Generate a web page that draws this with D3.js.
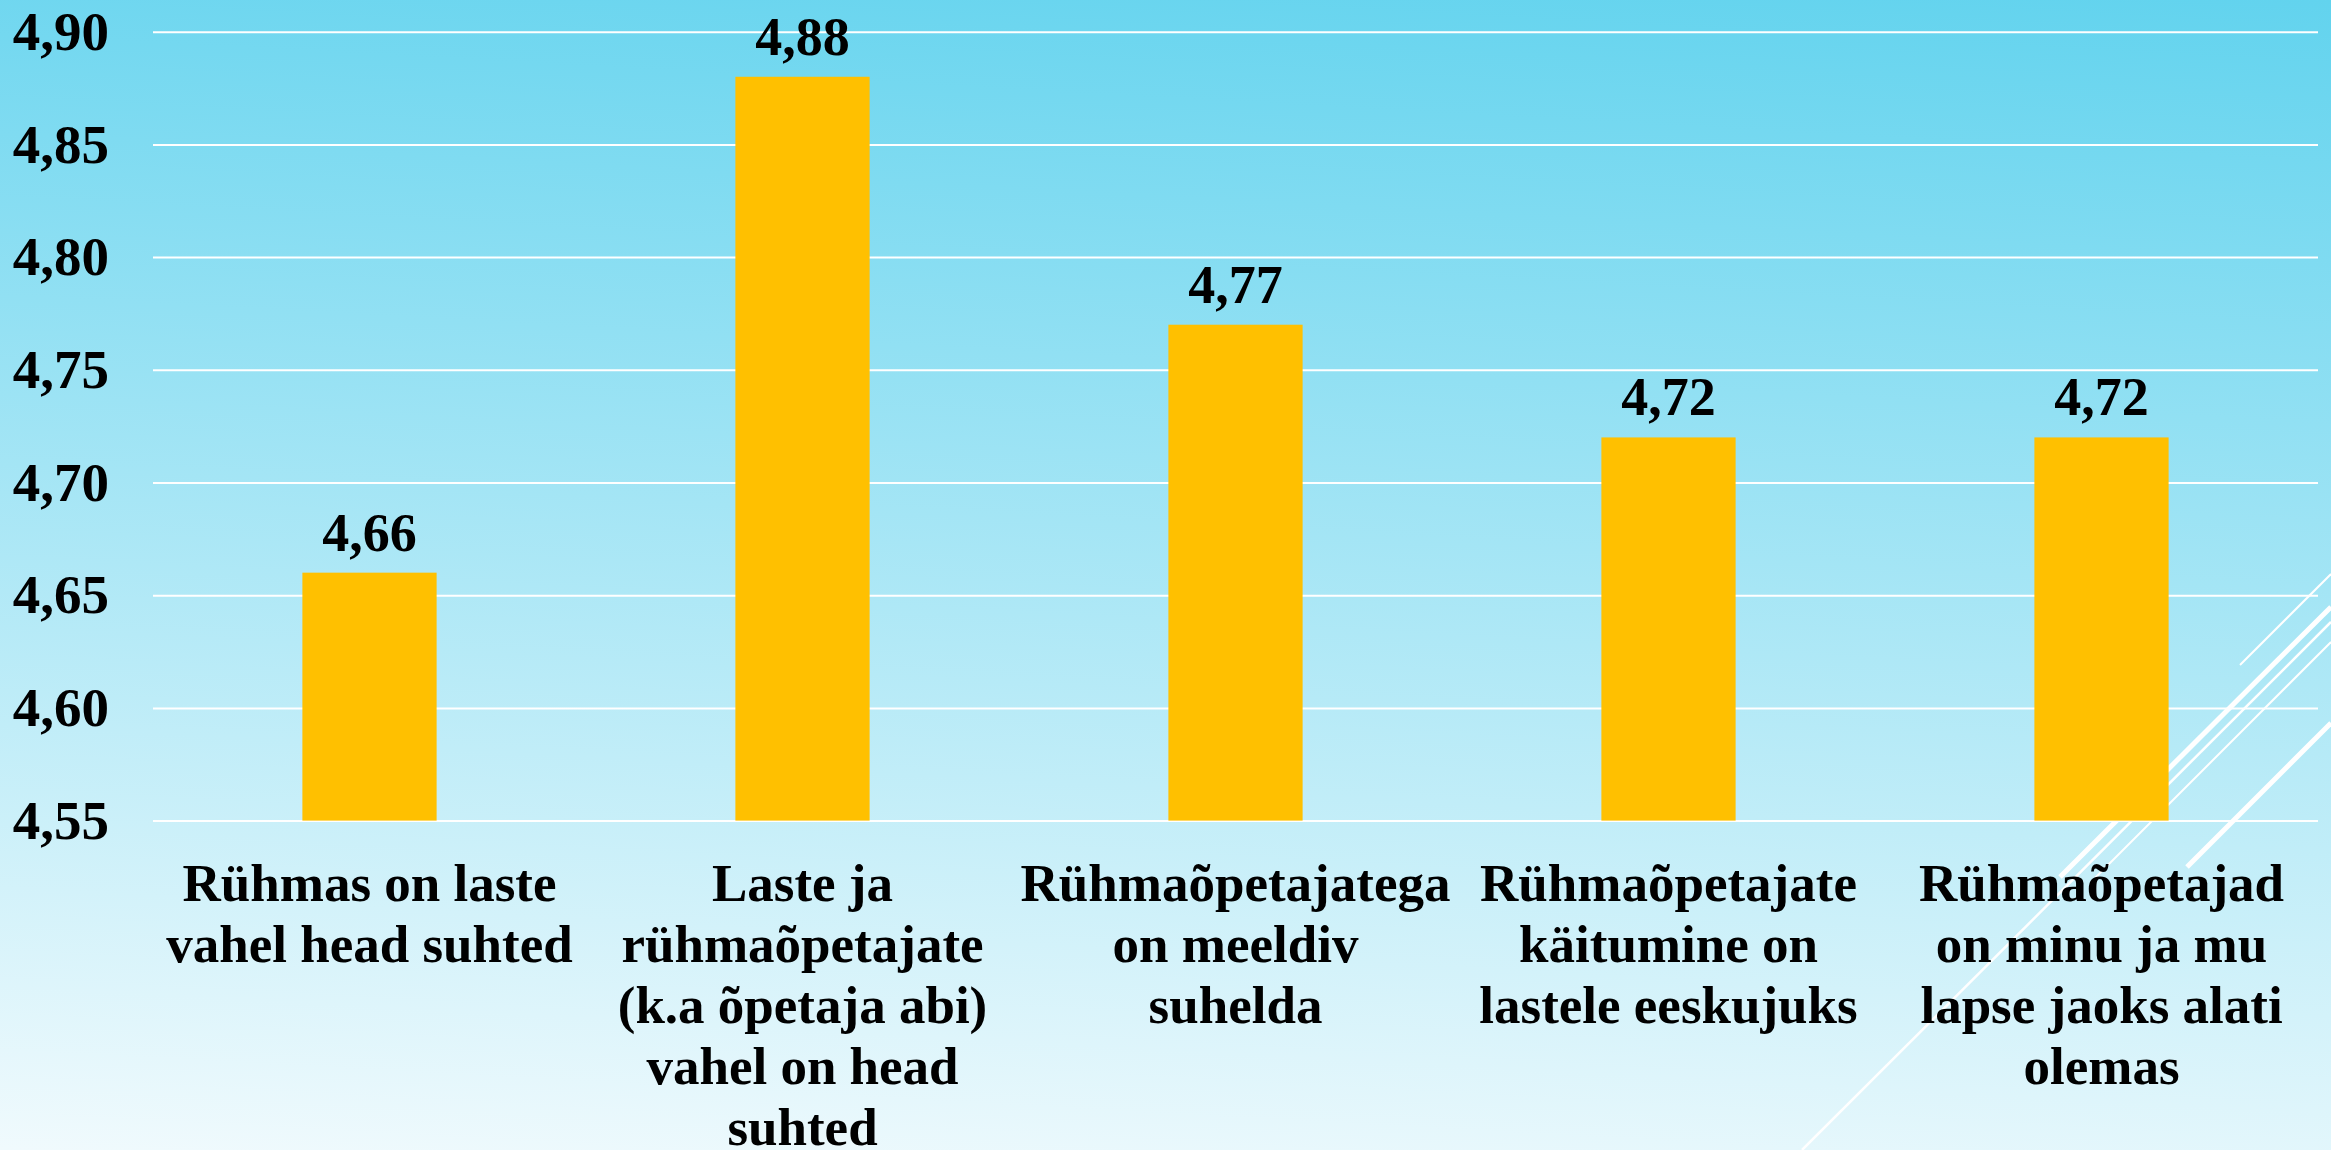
<!DOCTYPE html>
<html>
<head>
<meta charset="utf-8">
<script src="https://cdn.jsdelivr.net/npm/d3@7"></script>
<style>
  html, body { margin: 0; padding: 0; overflow: hidden; }
  #my_dataviz text { font-family: "Liberation Serif", "Times New Roman", serif; font-weight: bold; fill: #000; }
</style>
</head>
<body>
<div id="my_dataviz"></div>
<script>
// chart values
const categories = ["cat1", "cat2", "cat3", "cat4", "cat5"];
const categoryLabels = [
  ["Rühmas on laste", "vahel head suhted"],
  ["Laste ja", "rühmaõpetajate", "(k.a õpetaja abi)", "vahel on head", "suhted"],
  ["Rühmaõpetajatega", "on meeldiv", "suhelda"],
  ["Rühmaõpetajate", "käitumine on", "lastele eeskujuks"],
  ["Rühmaõpetajad", "on minu ja mu", "lapse jaoks alati", "olemas"]
];
const values = [4.66, 4.88, 4.77, 4.72, 4.72];
const yTicks = [4.55, 4.60, 4.65, 4.70, 4.75, 4.80, 4.85, 4.90];

// set the dimensions and margins of the graph
const W = 2331, H = 1150;
const margin = {top: 31.7, right: 13, bottom: 329.4, left: 153},
  width = W - margin.left - margin.right,
  height = H - margin.top - margin.bottom;

const fmt = v => v.toFixed(2).replace(".", ",");

const root = d3.select("#my_dataviz")
  .append("svg")
  .attr("width", W)
  .attr("height", H);

// background gradient (slide theme)
const defs = root.append("defs");
const grad = defs.append("linearGradient")
  .attr("id", "bg")
  .attr("gradientUnits", "userSpaceOnUse")
  .attr("x1", 2331).attr("y1", 0)
  .attr("x2", 2261).attr("y2", 1273);
grad.append("stop").attr("offset", 0).attr("stop-color", "#62d3ee");
grad.append("stop").attr("offset", 1).attr("stop-color", "#f0fafd");

root.append("rect")
  .attr("width", W)
  .attr("height", H)
  .attr("fill", "url(#bg)");

// decorative diagonal lines bottom right
const deco = [
  {x1: 2240, y1: 665, x2: 2331, y2: 574, w: 2},
  {x1: 2060, y1: 877, x2: 2331, y2: 607, w: 5},
  {x1: 1802, y1: 1150, x2: 2331, y2: 622, w: 2.5},
  {x1: 2095, y1: 878, x2: 2331, y2: 642, w: 2},
  {x1: 2187, y1: 867, x2: 2331, y2: 723, w: 5}
];
root.append("g")
  .selectAll("line")
  .data(deco)
  .join("line")
  .attr("x1", d => d.x1).attr("y1", d => d.y1)
  .attr("x2", d => d.x2).attr("y2", d => d.y2)
  .attr("stroke", "#fff")
  .attr("stroke-width", d => d.w);

const svg = root.append("g")
  .attr("transform", `translate(${margin.left},${margin.top})`);

// X axis
const x = d3.scaleBand()
  .range([0, width])
  .domain(categories)
  .paddingInner(0.69)
  .paddingOuter(0.345);

// Y axis + gridlines
const y = d3.scaleLinear()
  .domain([4.55, 4.90])
  .range([height, 0]);

const yAxis = svg.append("g")
  .call(d3.axisLeft(y)
    .tickValues(yTicks)
    .tickFormat(fmt)
    .tickSize(-width)
    .tickPadding(44));
yAxis.select(".domain").remove();
yAxis.selectAll(".tick line")
  .attr("stroke", "#fff")
  .attr("stroke-width", 2);
yAxis.selectAll(".tick text")
  .attr("font-size", 55)
  .attr("font-family", null);

const xAxis = svg.append("g")
  .attr("transform", `translate(0, ${height})`)
  .call(d3.axisBottom(x).tickSize(0).tickFormat(() => ""));
xAxis.select(".domain").remove();
xAxis.selectAll(".tick text")
  .attr("font-size", 53)
  .attr("font-family", null)
  .attr("text-anchor", "middle")
  .attr("y", 0)
  .attr("dy", null)
  .each(function(d, i) {
    d3.select(this).selectAll("tspan")
      .data(categoryLabels[i])
      .join("tspan")
      .attr("x", 0)
      .attr("y", (l, j) => 80.4 + j * 61)
      .text(l => l);
  });

// Bars
svg.selectAll("mybar")
  .data(values)
  .join("rect")
  .attr("x", (d, i) => x(categories[i]))
  .attr("y", d => y(d))
  .attr("width", x.bandwidth())
  .attr("height", d => height - y(d))
  .attr("fill", "#ffc000");

// value labels
svg.selectAll("mylabel")
  .data(values)
  .join("text")
  .attr("x", (d, i) => x(categories[i]) + x.bandwidth() / 2)
  .attr("y", d => y(d) - 22)
  .attr("text-anchor", "middle")
  .attr("font-size", 54)
  .text(fmt);
</script>
</body>
</html>
